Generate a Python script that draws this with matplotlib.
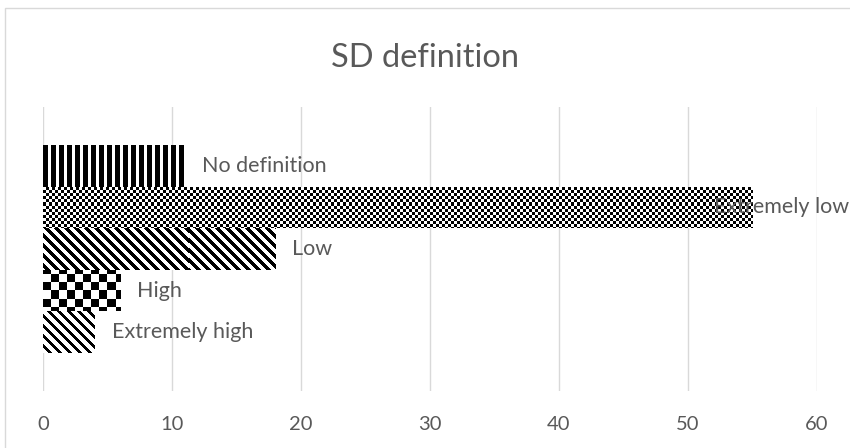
import numpy as np
import matplotlib
matplotlib.use("Agg")
import matplotlib.pyplot as plt
from matplotlib.patches import Rectangle

# Data
categories = ["Extremely high", "High", "Low", "Extremely low", "No definition"]
values = [4, 6, 18, 55, 11]
x_ticks = [0, 10, 20, 30, 40, 50, 60]
title = "SD definition"

W, H = 850, 448
DPI = 100
TEXT = "#595959"
GRID = "#D9D9D9"
FONT = "Lato"

fig = plt.figure(figsize=(W / DPI, H / DPI), dpi=DPI)
fig.patch.set_facecolor("white")

# plot area in pixels
left_px, right_px, top_px, bottom_px = 43, 817, 107, 391
ax = fig.add_axes([left_px / W, (H - bottom_px) / H,
                   (right_px - left_px) / W, (bottom_px - top_px) / H])
ax.set_facecolor("none")

# chart border
fig.add_artist(Rectangle((5 / W, -0.1), 1.2, (H - 8) / H + 0.1,
                         transform=fig.transFigure, fill=False,
                         edgecolor=GRID, linewidth=1.0))

ypos = np.arange(len(categories))
bars = ax.barh(ypos, values, height=1.0, color="none", edgecolor="none")

# pixel textures for the fills
aw, ah = right_px - left_px, bottom_px - top_px
yy, xx = np.mgrid[0:ah, 0:aw]


def vertical(x, y):
    return (x % 8) < 5


def small_checker(x, y):
    return ((x // 3) + (y // 3)) % 2 == 0


def wide_diag(x, y):
    return ((x - y) % 10) < 5


def large_checker(x, y):
    return ((x // 8) + (y // 8)) % 2 == 0


def diag(x, y):
    return ((x - y) % 10) < 4


patterns = {
    "Extremely high": diag,
    "High": large_checker,
    "Low": wide_diag,
    "Extremely low": small_checker,
    "No definition": vertical,
}

for name, bar in zip(categories, bars):
    mask = patterns[name](xx, yy)
    img = np.ones((ah, aw, 4))
    img[mask, :3] = 0.0
    im = ax.imshow(img, extent=[0, 1, 0, 1], transform=ax.transAxes,
                   interpolation="nearest", aspect="auto", zorder=2)
    im.set_clip_path(bar)

ax.set_xlim(0, 60)
ax.set_ylim(-1.42, 5.42)
ax.set_xticks(x_ticks)
ax.set_xticklabels([str(t) for t in x_ticks], fontsize=14.5, color=TEXT,
                   family=FONT)
ax.set_yticks([])
ax.tick_params(axis="x", length=0, pad=18)
for s in ax.spines.values():
    s.set_visible(False)
ax.grid(axis="x", color=GRID, linewidth=1.0, zorder=0)
ax.set_axisbelow(True)

# data labels just past the end of each bar
labels = []
for name, v, y in zip(categories, values, ypos):
    t = ax.annotate(name, xy=(v, y), xytext=(17, 0), textcoords="offset pixels",
                    ha="left", va="center", fontsize=15.5, color=TEXT,
                    family=FONT, zorder=3, annotation_clip=False)
    labels.append(t)

fig.text(0.5, (H - 58) / H, title, ha="center", va="center", fontsize=23.5,
         color=TEXT, family=FONT)

# keep labels inside the chart
fig.canvas.draw()
renderer = fig.canvas.get_renderer()
for t in labels:
    bb = t.get_window_extent(renderer)
    if bb.x1 > W:
        shift = bb.x1 - W + 1
        t.set_position((17 - shift, 0))

fig.savefig("out.png", dpi=DPI)
